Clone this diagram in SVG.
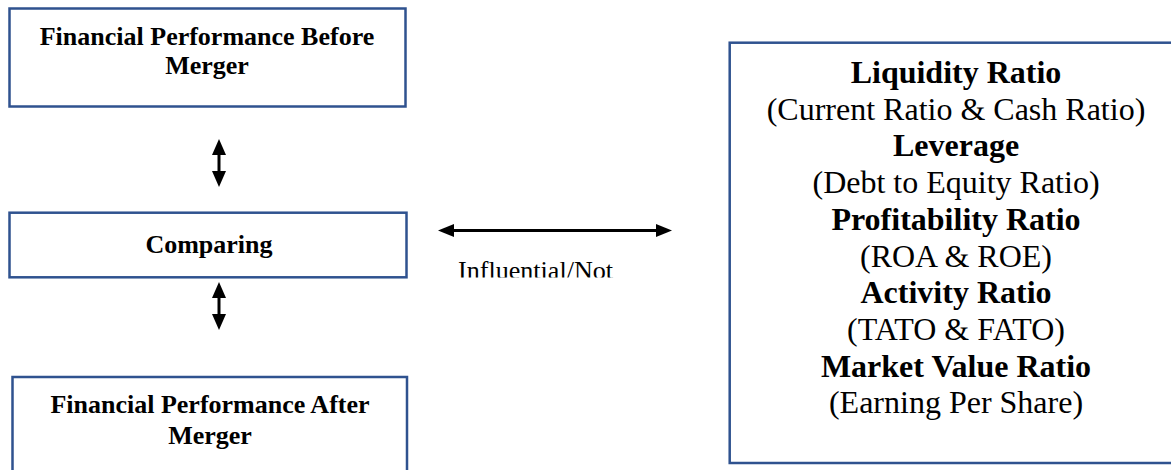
<svg xmlns="http://www.w3.org/2000/svg" width="1171" height="470" viewBox="0 0 1171 470">
  <style>
    .box { fill: #ffffff; stroke: #2F528F; stroke-width: 2.5; }
    .b { font-family: "Liberation Serif", "Times New Roman", serif; font-weight: bold; fill: #000; text-anchor: middle; }
    .r { font-family: "Liberation Serif", "Times New Roman", serif; fill: #000; text-anchor: middle; }
    .shaft { stroke: #000; stroke-width: 3; fill: none; }
    .head { fill: #000; }
  </style>
  <defs>
    <clipPath id="cutText">
      <rect x="440" y="250" width="200" height="27.5"/>
    </clipPath>
  </defs>
  <rect width="1171" height="470" fill="#ffffff"/>

  <g id="node-before">
    <rect class="box" x="9.5" y="8.5" width="396" height="98"/>
    <text class="b" x="207" y="45" font-size="26">Financial Performance Before</text>
    <text class="b" x="207" y="74" font-size="26">Merger</text>
  </g>

  <g id="node-comparing">
    <rect class="box" x="9.5" y="212.7" width="397" height="64.6"/>
    <text class="b" x="209" y="253" font-size="26">Comparing</text>
  </g>

  <g id="node-after">
    <rect class="box" x="12.5" y="377" width="394.5" height="100"/>
    <text class="b" x="210" y="413" font-size="26">Financial Performance After</text>
    <text class="b" x="210" y="444" font-size="26">Merger</text>
  </g>

  <g id="node-ratios">
    <rect class="box" x="729.7" y="42.7" width="460" height="420.3"/>
    <text class="b" x="956" y="83" font-size="32">Liquidity Ratio</text>
    <text class="r" x="956" y="119.7" font-size="32">(Current Ratio &amp; Cash Ratio)</text>
    <text class="b" x="956" y="156.4" font-size="32">Leverage</text>
    <text class="r" x="956" y="193.1" font-size="32">(Debt to Equity Ratio)</text>
    <text class="b" x="956" y="229.8" font-size="32">Profitability Ratio</text>
    <text class="r" x="956" y="266.5" font-size="32">(ROA &amp; ROE)</text>
    <text class="b" x="956" y="303.2" font-size="32">Activity Ratio</text>
    <text class="r" x="956" y="339.9" font-size="32">(TATO &amp; FATO)</text>
    <text class="b" x="956" y="376.6" font-size="32">Market Value Ratio</text>
    <text class="r" x="956" y="413.3" font-size="32">(Earning Per Share)</text>
  </g>

  <g id="connectors">
    <g id="arrow-top">
      <line class="shaft" x1="219" y1="152" x2="219" y2="174"/>
      <polygon class="head" points="219,139 212,155 226,155"/>
      <polygon class="head" points="219,187 212,171 226,171"/>
    </g>
    <g id="arrow-bottom">
      <line class="shaft" x1="219" y1="295" x2="219" y2="317"/>
      <polygon class="head" points="219,282 212,298 226,298"/>
      <polygon class="head" points="219,330 212,314 226,314"/>
    </g>
    <g id="arrow-horizontal">
      <line class="shaft" x1="450" y1="230.5" x2="660" y2="230.5"/>
      <polygon class="head" points="438,230.5 454,224 454,237"/>
      <polygon class="head" points="672,230.5 656,224 656,237"/>
    </g>
    <text class="r" x="535.5" y="279" font-size="26" textLength="155" lengthAdjust="spacingAndGlyphs" clip-path="url(#cutText)">Influential/Not</text>
  </g>
</svg>
